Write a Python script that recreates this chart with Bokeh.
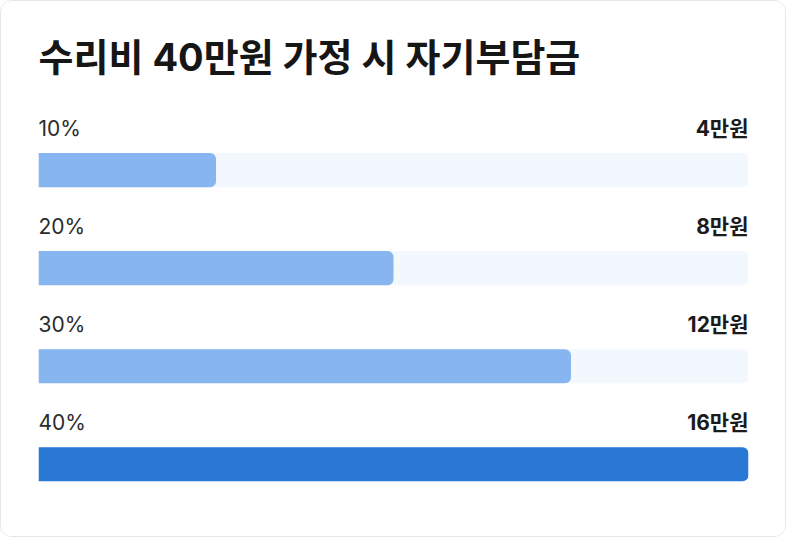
from bokeh.plotting import figure
from bokeh.models import ColumnDataSource, Range1d
from bokeh.core.properties import value
from bokeh.embed import file_html
from bokeh.resources import INLINE

title = "수리비 40만원 가정 시 자기부담금"
rates = ["10%", "20%", "30%", "40%"]
amounts = [4, 8, 12, 16]          # 만원
amount_labels = ["4만원", "8만원", "12만원", "16만원"]
max_amount = 16
highlight = [False, False, False, True]

rows = list(range(len(rates)))
LIGHT = "#86b5f0"
DARK = "#2978d6"
TRACK = "#f3f7fe"

src = ColumnDataSource(dict(
    row=rows,
    rate=rates,
    amount=amounts,
    label=amount_labels,
    zero=[0] * len(rows),
    full=[max_amount] * len(rows),
    color=[DARK if h else LIGHT for h in highlight],
))

FONT = "Inter, 'Noto Sans CJK KR', sans-serif"

p = figure(
    width=786, height=537,
    x_range=Range1d(0, max_amount),
    y_range=Range1d(3.584, -1.536),
    output_backend="svg", toolbar_location=None,
    min_border_left=37, min_border_right=39,
    min_border_top=18, min_border_bottom=17,
)
p.styles = {"border": "1px solid #e7e7e2", "border-radius": "12px",
            "box-sizing": "border-box", "overflow": "hidden",
            "background": "white"}
p.axis.visible = False
p.grid.visible = False
p.outline_line_color = None
p.background_fill_color = "white"
p.border_fill_color = "white"

# track
p.hbar(y="row", left="zero", right="full", height=0.348, source=src,
       fill_color=TRACK, line_color=None, border_radius=(0, 6, 6, 0))
# bars
p.hbar(y="row", left="zero", right="amount", height=0.348, source=src,
       fill_color="color", line_color=None, border_radius=(0, 6, 6, 0))

# left labels (rate)
p.text(x="zero", y="row", text="rate", source=src, y_offset=-42,
       text_align="left", text_baseline="alphabetic",
       text_font=value(FONT), text_font_size="21px",
       text_color="#2b2b2b")
# right labels (amount)
p.text(x="full", y="row", text="label", source=src, y_offset=-42,
       text_align="right", text_baseline="alphabetic",
       text_font=value(FONT), text_font_size="21px", text_font_style="bold",
       text_color="#1b1b1b")

# title
p.text(x=[0], y=[0], text=[title], y_offset=-113,
       text_align="left", text_baseline="middle",
       text_font=value(FONT), text_font_size="38px", text_font_style="bold",
       text_color="#161616")

open("out.html", "w").write(file_html(p, INLINE))
